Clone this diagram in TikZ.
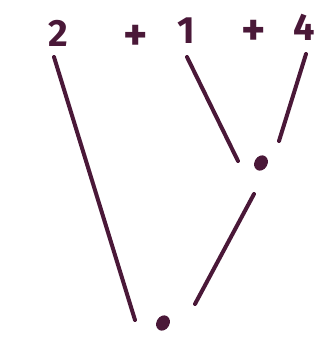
\documentclass[tikz,border=0pt]{standalone}
\usepackage{fontspec}
\setmainfont{Fira Sans}
\usetikzlibrary{shapes.geometric}
\definecolor{ink}{HTML}{4A1838}
\begin{document}
\begin{tikzpicture}[x=1pt,y=-1pt,
  lbl/.style={text=ink,font=\fontsize{38}{38}\selectfont\bfseries,inner sep=0pt},
  plus/.style={text=ink,font=\fontsize{46}{46}\selectfont\bfseries,inner sep=0pt},
  stroke/.style={draw=ink,line width=4pt,line cap=round},
  dotnode/.style={fill=ink,ellipse,minimum width=13pt,minimum height=16pt,inner sep=0pt,rotate=-30}]
\useasboundingbox (0,0) rectangle (322,338);
\node[lbl] (n2) at (58,33) {2};
\node[plus] (p1) at (136,38) {+};
\node[lbl] (n1) at (186,31) {1};
\node[plus] (p2) at (254,33) {+};
\node[lbl] (n4) at (304,27) {4};
\node[dotnode] (d1) at (261,163) {};
\node[dotnode] (d2) at (163,323) {};
\coordinate (a2) at (54,57);
\coordinate (b2) at (135,320);
\coordinate (a1) at (187,57);
\coordinate (b1) at (238,161);
\coordinate (a4) at (306,54);
\coordinate (b4) at (279,141);
\coordinate (a5) at (254,194);
\coordinate (b5) at (195,304);
\draw[stroke] (a2) -- (b2);
\draw[stroke] (a1) -- (b1);
\draw[stroke] (a4) -- (b4);
\draw[stroke] (a5) -- (b5);
\end{tikzpicture}
\end{document}
